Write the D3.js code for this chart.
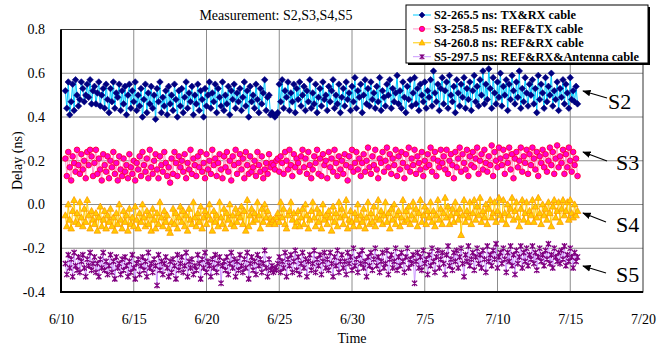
<!DOCTYPE html>
<html>
<head>
<meta charset="utf-8">
<script src="https://cdn.jsdelivr.net/npm/d3@7/dist/d3.min.js"></script>
<style>
  body { margin: 0; background: #fff; }
  svg { display: block; font-family: "Liberation Serif", "Times New Roman", serif; }
</style>
</head>
<body>
<div id="chart"></div>
<script>
// sampling: first reading at day 0.3 after 6/10, one reading every 0.1 day
const startDay = 0.3, stepDay = 0.1;

const xTickDays = [0, 5, 10, 15, 20, 25, 30, 35, 40];
const xTickLabels = ['6/10', '6/15', '6/20', '6/25', '6/30', '7/5', '7/10', '7/15', '7/20'];
const yTicks = [0.8, 0.6, 0.4, 0.2, 0.0, -0.2, -0.4];

const seriesNames = ['S2', 'S3', 'S4', 'S5'];
const legendLabels = [
  'S2-265.5 ns: TX&RX cable',
  'S3-258.5 ns: REF&TX cable',
  'S4-260.8 ns: REF&RX cable',
  'S5-297.5 ns: REF&RX&Antenna cable'
];

const s2 = [
  0.52,0.44,0.56,0.41,0.47,0.55,0.43,0.57,0.50,0.45,
  0.48,0.56,0.53,0.47,0.50,0.55,0.49,0.57,0.46,0.52,
  0.54,0.46,0.51,0.56,0.45,0.50,0.53,0.44,0.55,0.48,
  0.42,0.53,0.47,0.56,0.44,0.51,0.49,0.55,0.43,0.52,
  0.46,0.54,0.41,0.50,0.55,0.44,0.52,0.47,0.56,0.43,
  0.50,0.45,0.53,0.40,0.48,0.55,0.42,0.51,0.46,0.54,
  0.44,0.50,0.39,0.53,0.47,0.56,0.42,0.49,0.45,0.52,
  0.41,0.54,0.46,0.50,0.43,0.55,0.48,0.40,0.52,0.45,
  0.53,0.42,0.49,0.56,0.44,0.51,0.47,0.54,0.41,0.50,
  0.46,0.55,0.43,0.52,0.48,0.40,0.53,0.45,0.50,0.56,
  0.44,0.51,0.47,0.55,0.42,0.53,0.49,0.45,0.56,0.43,
  0.50,0.46,0.54,0.41,0.52,0.48,0.55,0.44,0.51,0.47,
  0.53,0.43,0.49,0.56,0.45,0.52,0.40,0.54,0.47,0.50,
  0.44,0.55,0.48,0.42,0.53,0.46,0.51,0.57,0.43,0.49,
  0.50,0.41,0.42,0.41,0.40,0.41,0.42,0.55,0.47,0.57,
  0.44,0.52,0.49,0.56,0.43,0.51,0.47,0.55,0.42,0.53,
  0.48,0.56,0.45,0.50,0.54,0.43,0.52,0.47,0.57,0.44,
  0.51,0.46,0.55,0.42,0.49,0.53,0.45,0.56,0.48,0.50,
  0.43,0.54,0.47,0.52,0.57,0.44,0.50,0.46,0.55,0.42,
  0.49,0.53,0.45,0.56,0.48,0.51,0.43,0.54,0.47,0.58,
  0.44,0.52,0.49,0.55,0.42,0.50,0.57,0.46,0.53,0.45,
  0.56,0.48,0.51,0.44,0.54,0.47,0.58,0.43,0.52,0.49,
  0.45,0.55,0.50,0.57,0.44,0.53,0.47,0.51,0.59,0.46,
  0.52,0.44,0.56,0.49,0.42,0.54,0.48,0.57,0.45,0.51,
  0.58,0.46,0.53,0.43,0.55,0.50,0.47,0.56,0.44,0.52,
  0.49,0.57,0.45,0.61,0.51,0.47,0.55,0.43,0.53,0.58,
  0.46,0.52,0.56,0.44,0.59,0.50,0.47,0.54,0.42,0.57,
  0.51,0.45,0.55,0.49,0.58,0.44,0.53,0.48,0.56,0.43,
  0.52,0.59,0.47,0.54,0.45,0.57,0.50,0.61,0.46,0.55,
  0.48,0.62,0.53,0.44,0.58,0.51,0.46,0.56,0.49,0.60,
  0.45,0.54,0.50,0.57,0.43,0.55,0.48,0.59,0.52,0.46,
  0.56,0.49,0.61,0.44,0.53,0.47,0.58,0.51,0.45,0.55,
  0.50,0.57,0.46,0.53,0.42,0.59,0.48,0.55,0.51,0.44,
  0.58,0.47,0.54,0.50,0.60,0.45,0.52,0.48,0.56,0.43,
  0.53,0.49,0.57,0.46,0.55,0.51,0.44,0.58,0.48,0.52,
  0.47,0.54,0.46
];

const s3 = [
  0.21,0.13,0.24,0.17,0.11,0.22,0.19,0.15,0.25,0.18,
  0.14,0.23,0.16,0.20,0.12,0.24,0.18,0.25,0.22,0.13,
  0.19,0.25,0.14,0.21,0.16,0.11,0.23,0.18,0.15,0.22,
  0.12,0.20,0.17,0.24,0.14,0.19,0.11,0.22,0.16,0.13,
  0.21,0.15,0.18,0.12,0.23,0.17,0.14,0.20,0.11,0.19,
  0.16,0.22,0.13,0.24,0.18,0.15,0.21,0.12,0.25,0.17,
  0.14,0.20,0.23,0.16,0.12,0.22,0.18,0.15,0.24,0.19,
  0.13,0.17,0.10,0.21,0.14,0.24,0.19,0.13,0.22,0.17,
  0.20,0.15,0.23,0.12,0.19,0.16,0.25,0.14,0.21,0.18,
  0.13,0.22,0.17,0.24,0.15,0.19,0.12,0.23,0.16,0.20,
  0.14,0.25,0.18,0.21,0.13,0.19,0.23,0.16,0.12,0.22,
  0.17,0.24,0.15,0.20,0.11,0.22,0.18,0.25,0.14,0.19,
  0.23,0.16,0.21,0.12,0.24,0.18,0.14,0.22,0.15,0.17,
  0.20,0.13,0.24,0.18,0.15,0.22,0.12,0.16,0.19,0.14,
  0.23,0.17,0.19,0.18,0.16,0.20,0.21,0.15,0.22,0.19,
  0.14,0.24,0.20,0.16,0.25,0.18,0.13,0.23,0.17,0.21,
  0.19,0.15,0.22,0.25,0.17,0.21,0.14,0.24,0.18,0.12,
  0.16,0.22,0.19,0.25,0.14,0.21,0.13,0.23,0.18,0.20,
  0.12,0.24,0.17,0.21,0.15,0.25,0.19,0.13,0.22,0.16,
  0.20,0.14,0.23,0.18,0.11,0.22,0.17,0.25,0.15,0.19,
  0.24,0.16,0.21,0.13,0.19,0.23,0.15,0.20,0.26,0.17,
  0.14,0.22,0.18,0.25,0.16,0.12,0.21,0.19,0.24,0.15,
  0.20,0.26,0.17,0.23,0.14,0.21,0.18,0.25,0.13,0.22,
  0.16,0.24,0.19,0.12,0.23,0.17,0.26,0.15,0.21,0.18,
  0.25,0.14,0.22,0.19,0.16,0.24,0.13,0.20,0.17,0.23,
  0.18,0.26,0.15,0.21,0.24,0.13,0.20,0.17,0.25,0.19,
  0.22,0.16,0.25,0.14,0.20,0.23,0.18,0.12,0.24,0.17,
  0.21,0.26,0.15,0.23,0.19,0.16,0.25,0.13,0.22,0.18,
  0.24,0.17,0.21,0.26,0.14,0.20,0.23,0.16,0.25,0.19,
  0.15,0.22,0.18,0.27,0.13,0.24,0.20,0.17,0.26,0.21,
  0.18,0.25,0.14,0.22,0.19,0.26,0.16,0.23,0.12,0.21,
  0.24,0.17,0.20,0.26,0.15,0.22,0.19,0.25,0.14,0.23,
  0.18,0.26,0.21,0.16,0.24,0.13,0.22,0.19,0.25,0.17,
  0.23,0.15,0.20,0.26,0.18,0.24,0.14,0.21,0.27,0.17,
  0.22,0.19,0.25,0.14,0.23,0.17,0.26,0.20,0.15,0.24,
  0.18,0.21,0.13
];

const s4 = [
  -0.05,-0.10,0.00,-0.07,-0.11,-0.03,0.02,-0.08,-0.04,-0.09,
  0.01,-0.06,-0.10,-0.02,-0.08,0.02,-0.05,-0.11,-0.03,-0.07,
  -0.09,-0.04,-0.12,-0.06,-0.01,-0.10,-0.07,-0.03,-0.11,-0.05,
  -0.08,-0.02,-0.10,-0.06,-0.12,-0.04,-0.09,0.00,-0.07,-0.11,
  -0.03,-0.08,-0.05,-0.12,-0.02,-0.09,-0.06,-0.10,-0.01,-0.07,
  -0.11,-0.04,-0.08,0.00,-0.06,-0.10,-0.03,-0.09,-0.05,-0.12,
  -0.02,-0.07,-0.11,-0.04,-0.09,0.01,-0.06,-0.10,-0.03,-0.08,
  -0.05,-0.11,-0.13,-0.08,-0.02,-0.09,-0.04,-0.11,-0.06,-0.01,
  -0.08,-0.03,-0.10,-0.05,-0.12,-0.02,-0.07,-0.09,0.01,-0.06,
  -0.10,-0.04,-0.08,-0.01,-0.11,-0.06,-0.03,-0.09,-0.05,0.00,
  -0.07,-0.12,-0.03,-0.08,-0.05,-0.10,0.01,-0.06,-0.09,-0.02,
  -0.11,-0.04,-0.07,0.00,-0.09,-0.05,-0.10,-0.02,-0.08,-0.04,
  -0.06,-0.01,-0.09,-0.03,-0.12,0.02,-0.10,-0.05,-0.02,-0.08,
  -0.04,-0.07,0.01,-0.05,-0.11,-0.02,-0.08,0.00,-0.06,-0.03,
  -0.09,-0.06,-0.08,-0.07,-0.09,-0.06,-0.04,-0.08,0.01,-0.06,
  -0.02,-0.09,-0.11,-0.05,-0.03,0.01,-0.07,-0.04,-0.10,-0.08,
  -0.03,-0.10,-0.06,-0.02,-0.09,0.00,-0.05,-0.11,-0.07,-0.03,
  0.01,-0.06,-0.10,-0.02,-0.08,-0.04,-0.11,0.00,-0.07,-0.05,
  -0.09,-0.03,-0.06,-0.12,-0.01,-0.08,-0.04,-0.10,0.01,-0.06,
  -0.02,-0.09,-0.05,0.02,-0.11,-0.07,-0.03,-0.08,-0.10,-0.04,
  -0.07,0.00,-0.10,-0.05,-0.08,-0.02,-0.11,-0.06,0.01,-0.09,
  -0.04,-0.08,-0.01,-0.10,-0.06,0.02,-0.07,-0.03,-0.09,-0.05,
  0.01,-0.08,-0.04,-0.11,-0.02,-0.07,0.00,-0.09,-0.05,-0.03,
  -0.10,-0.06,0.02,-0.08,-0.03,-0.07,-0.01,-0.09,-0.05,0.01,
  -0.07,-0.02,-0.10,-0.04,0.02,-0.08,-0.05,-0.01,-0.09,-0.03,
  -0.06,0.01,-0.08,-0.03,-0.10,-0.05,0.02,-0.07,-0.02,-0.09,
  -0.04,0.03,-0.06,-0.01,-0.09,-0.05,-0.02,-0.08,0.01,-0.04,
  -0.07,-0.02,-0.14,-0.05,0.02,-0.08,-0.03,-0.06,0.01,-0.09,
  -0.04,0.02,-0.07,-0.01,-0.05,0.03,-0.08,-0.03,-0.06,0.00,
  -0.09,-0.02,0.02,-0.06,-0.04,0.01,-0.08,-0.03,0.03,-0.05,
  -0.07,0.02,-0.04,-0.09,0.00,-0.05,-0.02,0.03,-0.07,-0.03,
  0.01,-0.06,-0.10,-0.02,0.02,-0.07,-0.04,0.01,-0.08,-0.03,
  -0.05,0.02,-0.08,-0.01,-0.06,0.03,-0.04,-0.09,0.00,-0.05,
  -0.02,-0.07,0.01,-0.04,-0.10,-0.01,0.02,-0.06,-0.03,0.01,
  -0.08,-0.02,0.02,-0.05,-0.03,0.01,-0.07,0.02,-0.04,-0.06,
  0.00,-0.05,-0.03
];

const s5 = [
  -0.27,-0.32,-0.23,-0.29,-0.25,-0.33,-0.22,-0.28,-0.30,-0.24,
  -0.31,-0.26,-0.23,-0.29,-0.33,-0.25,-0.28,-0.22,-0.30,-0.27,
  -0.24,-0.31,-0.27,-0.33,-0.25,-0.29,-0.22,-0.30,-0.26,-0.32,
  -0.28,-0.23,-0.31,-0.26,-0.34,-0.24,-0.29,-0.27,-0.32,-0.25,
  -0.30,-0.24,-0.28,-0.33,-0.26,-0.31,-0.23,-0.29,-0.34,-0.27,
  -0.25,-0.32,-0.28,-0.24,-0.30,-0.26,-0.33,-0.22,-0.29,-0.27,
  -0.31,-0.25,-0.28,-0.37,-0.23,-0.30,-0.26,-0.32,-0.27,-0.24,
  -0.29,-0.33,-0.26,-0.31,-0.25,-0.28,-0.34,-0.23,-0.30,-0.27,
  -0.24,-0.31,-0.28,-0.22,-0.33,-0.26,-0.29,-0.25,-0.32,-0.28,
  -0.30,-0.23,-0.27,-0.34,-0.25,-0.29,-0.22,-0.31,-0.26,-0.28,
  -0.33,-0.25,-0.29,-0.23,-0.31,-0.27,-0.24,-0.36,-0.28,-0.26,
  -0.30,-0.24,-0.32,-0.27,-0.22,-0.29,-0.25,-0.33,-0.26,-0.30,
  -0.23,-0.28,-0.31,-0.25,-0.29,-0.22,-0.34,-0.27,-0.24,-0.30,
  -0.26,-0.32,-0.23,-0.28,-0.25,-0.31,-0.27,-0.21,-0.29,-0.33,
  -0.25,-0.30,-0.28,-0.31,-0.29,-0.30,-0.27,-0.24,-0.31,-0.26,
  -0.29,-0.22,-0.33,-0.25,-0.28,-0.23,-0.31,-0.26,-0.21,-0.30,
  -0.24,-0.32,-0.27,-0.22,-0.29,-0.25,-0.33,-0.26,-0.23,-0.30,
  -0.27,-0.21,-0.31,-0.25,-0.28,-0.23,-0.32,-0.26,-0.22,-0.29,
  -0.25,-0.30,-0.22,-0.27,-0.33,-0.24,-0.28,-0.21,-0.31,-0.26,
  -0.23,-0.29,-0.26,-0.32,-0.22,-0.27,-0.24,-0.30,-0.20,-0.28,
  -0.25,-0.31,-0.23,-0.27,-0.21,-0.29,-0.26,-0.33,-0.24,-0.28,
  -0.22,-0.30,-0.25,-0.20,-0.28,-0.24,-0.31,-0.26,-0.22,-0.29,
  -0.27,-0.21,-0.32,-0.25,-0.23,-0.29,-0.26,-0.20,-0.30,-0.24,
  -0.28,-0.22,-0.26,-0.31,-0.24,-0.20,-0.29,-0.25,-0.27,-0.23,
  -0.36,-0.26,-0.22,-0.29,-0.24,-0.30,-0.21,-0.27,-0.25,-0.32,
  -0.23,-0.28,-0.20,-0.26,-0.31,-0.24,-0.21,-0.29,-0.25,-0.22,
  -0.27,-0.32,-0.23,-0.19,-0.28,-0.25,-0.30,-0.22,-0.26,-0.21,
  -0.29,-0.24,-0.20,-0.27,-0.33,-0.23,-0.26,-0.19,-0.28,-0.25,
  -0.22,-0.30,-0.24,-0.20,-0.27,-0.23,-0.29,-0.21,-0.25,-0.31,
  -0.19,-0.26,-0.23,-0.28,-0.21,-0.25,-0.18,-0.29,-0.24,-0.22,
  -0.27,-0.20,-0.25,-0.31,-0.22,-0.26,-0.19,-0.28,-0.23,-0.32,
  -0.21,-0.27,-0.24,-0.19,-0.29,-0.22,-0.26,-0.20,-0.28,-0.23,
  -0.25,-0.19,-0.27,-0.22,-0.30,-0.24,-0.20,-0.26,-0.23,-0.28,
  -0.21,-0.25,-0.18,-0.27,-0.23,-0.29,-0.20,-0.24,-0.26,-0.22,
  -0.27,-0.21,-0.25,-0.19,-0.28,-0.23,-0.26,-0.20,-0.24,-0.29,
  -0.22,-0.26,-0.24
];

const width = 657, height = 347;
const plot = { left: 61, right: 643, top: 29.5, bottom: 292 };

const svg = d3.select('#chart').append('svg')
  .attr('width', width)
  .attr('height', height);

const x = d3.scaleLinear().domain([0, 40]).range([plot.left, plot.right]);
const y = d3.scaleLinear().domain([-0.4, 0.8]).range([plot.bottom, plot.top]);

// marker shapes
const diamond = 'M0,-3.3L3.3,0L0,3.3L-3.3,0Z';
const triangle = 'M0,-3.6L3.3,2.4L-3.3,2.4Z';
const star = 'M-2.6,-2.6L2.6,2.6M-2.6,2.6L2.6,-2.6M0,-3.1L0,3.1';

const styles = [
  { line: '#00ccff', kind: 'path', d: diamond, fill: '#000080', stroke: '#000080', sw: 0.6 },
  { line: '#ff99cc', kind: 'circle', r: 2.8, fill: '#ff00cc', stroke: '#ff0033', sw: 0.9 },
  { line: '#ffcc00', kind: 'path', d: triangle, fill: '#ffcc00', stroke: '#ff9900', sw: 0.8 },
  { line: '#cc99ff', kind: 'path', d: star, fill: 'none', stroke: '#800080', sw: 1.3 }
];

const allSeries = [s2, s3, s4, s5].map(vals =>
  vals.map((v, i) => ({ t: startDay + i * stepDay, v }))
);

// grid
svg.append('g').selectAll('line')
  .data(xTickDays.slice(1, -1))
  .enter().append('line')
  .attr('x1', d => x(d)).attr('x2', d => x(d))
  .attr('y1', plot.top).attr('y2', plot.bottom)
  .style('stroke', '#8c8c8c').style('stroke-width', '1px');

svg.append('g').selectAll('line')
  .data(yTicks.slice(1, -1))
  .enter().append('line')
  .attr('x1', plot.left).attr('x2', plot.right)
  .attr('y1', d => y(d)).attr('y2', d => y(d))
  .style('stroke', '#8c8c8c').style('stroke-width', '1px');

svg.append('rect')
  .attr('x', plot.left).attr('y', plot.top)
  .attr('width', plot.right - plot.left).attr('height', plot.bottom - plot.top)
  .style('fill', 'none').style('stroke', '#333').style('stroke-width', '1px');

// series
const line = d3.line().x(d => x(d.t)).y(d => y(d.v));

allSeries.forEach((pts, k) => {
  const st = styles[k];
  const g = svg.append('g');
  g.append('path')
    .datum(pts)
    .attr('d', line)
    .style('fill', 'none')
    .style('stroke', st.line)
    .style('stroke-width', '1px');

  if (st.kind === 'circle') {
    g.selectAll('circle').data(pts).enter().append('circle')
      .attr('cx', d => x(d.t)).attr('cy', d => y(d.v)).attr('r', st.r)
      .style('fill', st.fill).style('stroke', st.stroke).style('stroke-width', st.sw);
  } else {
    g.selectAll('path.m').data(pts).enter().append('path')
      .attr('class', 'm')
      .attr('d', st.d)
      .attr('transform', d => `translate(${x(d.t)},${y(d.v)})`)
      .style('fill', st.fill).style('stroke', st.stroke).style('stroke-width', st.sw);
  }
});

// axes
const xAxis = svg.append('g')
  .attr('transform', `translate(0,${plot.bottom})`)
  .call(d3.axisBottom(x).tickValues(xTickDays).tickSize(0).tickPadding(22)
    .tickFormat((d, i) => xTickLabels[i]));
xAxis.select('.domain').remove();
xAxis.selectAll('text').style('font-size', '14px').style('fill', '#000')
  .style('font-family', '"Liberation Serif", serif');

const yAxis = svg.append('g')
  .attr('transform', `translate(${plot.left},0)`)
  .call(d3.axisLeft(y).tickValues(yTicks).tickSize(0).tickPadding(16)
    .tickFormat(d => d.toFixed(1)));
yAxis.select('.domain').remove();
yAxis.selectAll('text').style('font-size', '14px').style('fill', '#000')
  .style('font-family', '"Liberation Serif", serif');

svg.append('line')
  .attr('x1', plot.left).attr('x2', plot.left)
  .attr('y1', plot.top).attr('y2', plot.bottom + 1)
  .style('stroke', '#000').style('stroke-width', '2px');
svg.append('line')
  .attr('x1', plot.left - 1).attr('x2', plot.right)
  .attr('y1', plot.bottom).attr('y2', plot.bottom)
  .style('stroke', '#000').style('stroke-width', '2px');

// titles
svg.append('text')
  .attr('x', 276).attr('y', 20)
  .attr('text-anchor', 'middle')
  .style('font-size', '14px')
  .text('Measurement: S2,S3,S4,S5');

svg.append('text')
  .attr('x', (plot.left + plot.right) / 2).attr('y', 343)
  .attr('text-anchor', 'middle')
  .style('font-size', '14px')
  .text('Time');

svg.append('text')
  .attr('transform', `translate(17,${(plot.top + plot.bottom) / 2}) rotate(-90)`)
  .attr('text-anchor', 'middle')
  .attr('dy', '0.35em')
  .style('font-size', '14px')
  .text('Delay (ns)');

// series labels with arrows
svg.append('defs').append('marker')
  .attr('id', 'ah')
  .attr('viewBox', '0 0 10 10')
  .attr('refX', 9).attr('refY', 5)
  .attr('markerWidth', 7).attr('markerHeight', 7)
  .attr('orient', 'auto')
  .append('path').attr('d', 'M0,1L10,5L0,9Z').style('fill', '#000');

const callouts = [
  { tx: 607, ty: 98, hx: 583, hy: 91, lx: 608, ly: 109 },
  { tx: 607, ty: 161, hx: 583, hy: 152, lx: 616, ly: 170 },
  { tx: 606, ty: 222, hx: 583, hy: 213, lx: 616, ly: 232 },
  { tx: 606, ty: 273, hx: 583, hy: 266, lx: 616, ly: 282 }
];

callouts.forEach((c, i) => {
  svg.append('line')
    .attr('x1', c.tx).attr('y1', c.ty).attr('x2', c.hx).attr('y2', c.hy)
    .attr('marker-end', 'url(#ah)')
    .style('stroke', '#000').style('stroke-width', '1.2px');
  svg.append('text')
    .attr('x', c.lx).attr('y', c.ly)
    .style('font-size', '22px')
    .text(seriesNames[i]);
});

// legend
const lg = svg.append('g').attr('transform', 'translate(406,5)');
lg.append('rect').attr('x', 2).attr('y', 2).attr('width', 242).attr('height', 58)
  .style('fill', '#000');
lg.append('rect').attr('width', 242).attr('height', 58)
  .style('fill', '#fff').style('stroke', '#000').style('stroke-width', '1px');

legendLabels.forEach((label, i) => {
  const st = styles[i];
  const row = lg.append('g').attr('transform', `translate(0,${10 + i * 13.9})`);
  row.append('line').attr('x1', 7).attr('x2', 25).attr('y1', 0).attr('y2', 0)
    .style('stroke', st.line).style('stroke-width', '1px');
  if (st.kind === 'circle') {
    row.append('circle').attr('cx', 16).attr('cy', 0).attr('r', 2.6)
      .style('fill', st.fill).style('stroke', st.stroke).style('stroke-width', st.sw);
  } else {
    row.append('path').attr('d', st.d)
      .attr('transform', 'translate(16,0) scale(0.9)')
      .style('fill', st.fill).style('stroke', st.stroke).style('stroke-width', st.sw);
  }
  row.append('text')
    .attr('x', 28).attr('dy', '0.35em')
    .style('font-size', '12.3px').style('font-weight', 'bold')
    .text(label);
});
</script>
</body>
</html>
